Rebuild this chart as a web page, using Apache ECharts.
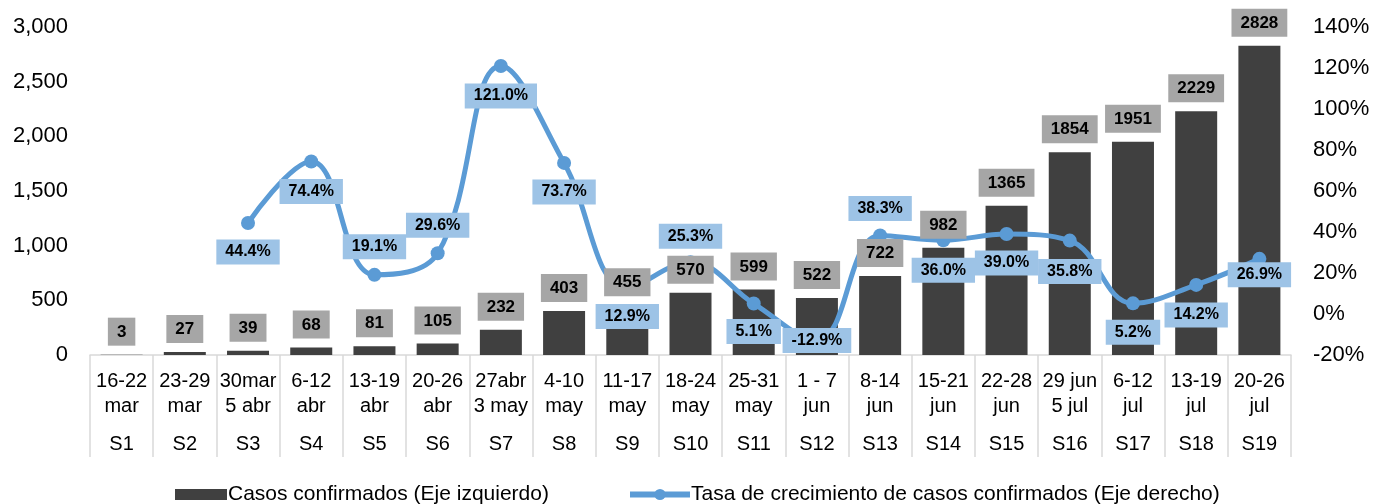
<!DOCTYPE html>
<html>
<head>
<meta charset="utf-8">
<script src="https://cdn.jsdelivr.net/npm/echarts@6/dist/echarts.min.js"></script>
<style>
    html, body { margin: 0; padding: 0; background: #fff; }
    #chart { width: 1387px; height: 504px; }
</style>
</head>
<body>
<div id="chart"></div>
<script>
// datos
const fechas = ['16-22\nmar', '23-29\nmar', '30mar\n5 abr', '6-12\nabr', '13-19\nabr', '20-26\nabr',
    '27abr\n3 may', '4-10\nmay', '11-17\nmay', '18-24\nmay', '25-31\nmay', '1 - 7\njun', '8-14\njun',
    '15-21\njun', '22-28\njun', '29 jun\n5 jul', '6-12\njul', '13-19\njul', '20-26\njul']
const semanas = ['S1', 'S2', 'S3', 'S4', 'S5', 'S6', 'S7', 'S8', 'S9', 'S10', 'S11', 'S12', 'S13',
    'S14', 'S15', 'S16', 'S17', 'S18', 'S19']
const casos = [3, 27, 39, 68, 81, 105, 232, 403, 455, 570, 599, 522, 722, 982, 1365, 1854, 1951, 2229, 2828]
const tasa = [null, null, 44.4, 74.4, 19.1, 29.6, 121.0, 73.7, 12.9, 25.3, 5.1, -12.9, 38.3, 36.0, 39.0, 35.8, 5.2, 14.2, 26.9]
// desplazamiento vertical de cada etiqueta de la linea
const desplaz = [0, 0, 29, 30, -28, -28, 30, 29, 29, -26, 28, 0, -27, 30, 29, 31, 29, 30, 16]

const fuente = 'Liberation Sans, Arial, sans-serif'
const serieBarras = 'Casos confirmados (Eje izquierdo)'
const serieLinea = 'Tasa de crecimiento de casos confirmados (Eje derecho)'

let myChart = echarts.init(document.getElementById('chart'))

let datosTasa = tasa.map((v, i) => ({
    value: v,
    label: { offset: [0, desplaz[i]] }
}))

let estiloLeyenda = { fontSize: 21, color: '#000', fontFamily: fuente }

let option = {
    animation: false,
    textStyle: { fontFamily: fuente },
    grid: {
        left: 90,
        right: 96,
        top: 27,
        bottom: 149
    },
    legend: [
        {
            left: 170,
            top: 479,
            itemWidth: 52,
            itemHeight: 11,
            itemGap: 4,
            textStyle: Object.assign({ padding: [0, 0, 0, -4] }, estiloLeyenda),
            data: [{ name: serieBarras, icon: 'rect' }]
        },
        {
            left: 622,
            top: 479,
            itemWidth: 60,
            itemHeight: 14,
            textStyle: Object.assign({ padding: [0, 0, 0, -4] }, estiloLeyenda),
            data: [{ name: serieLinea, lineStyle: { width: 6 } }]
        }
    ],
    xAxis: {
        type: 'category',
        data: fechas,
        boundaryGap: true,
        axisLine: { lineStyle: { color: '#d9d9d9', width: 1.5 } },
        axisTick: {
            show: true,
            interval: 0,
            length: 102,
            lineStyle: { color: '#d9d9d9', width: 1.5 }
        },
        axisLabel: {
            interval: 0,
            margin: 14,
            formatter: (v, i) => v.split('\n').map(t => '{d|' + t + '}').join('\n') + '\n{s|' + semanas[i] + '}',
            rich: {
                d: { fontSize: 20, lineHeight: 25, color: '#000', fontFamily: fuente },
                s: { fontSize: 20, lineHeight: 51, color: '#000', fontFamily: fuente }
            }
        }
    },
    yAxis: [
        {
            type: 'value',
            min: 0,
            max: 3000,
            interval: 500,
            splitLine: { show: false },
            axisLine: { show: false },
            axisLabel: {
                margin: 22,
                fontSize: 22,
                color: '#000',
                formatter: v => v.toLocaleString('en-US')
            }
        },
        {
            type: 'value',
            min: -20,
            max: 140,
            interval: 20,
            splitLine: { show: false },
            axisLine: { show: false },
            axisLabel: {
                margin: 22,
                fontSize: 22,
                color: '#000',
                formatter: v => v + '%'
            }
        }
    ],
    series: [
        {
            name: serieBarras,
            type: 'bar',
            barWidth: 42,
            z: 2,
            data: casos,
            itemStyle: { color: '#404040' }
        },
        {
            name: serieLinea,
            type: 'line',
            yAxisIndex: 1,
            z: 3,
            data: datosTasa,
            smooth: 0.4,
            connectNulls: false,
            symbol: 'circle',
            symbolSize: 14,
            lineStyle: { color: '#5b9bd5', width: 5 },
            itemStyle: { color: '#5b9bd5' },
            label: {
                show: true,
                position: 'inside',
                fontSize: 16,
                fontWeight: 'bold',
                color: '#000',
                backgroundColor: '#9dc3e6',
                padding: [5, 9, 4, 9],
                formatter: p => p.value == null ? '' : p.value.toFixed(1) + '%'
            }
        },
        {
            // barras transparentes solo para poner las etiquetas encima de la linea
            name: 'etiquetas',
            type: 'bar',
            barWidth: 42,
            barGap: '-100%',
            z: 4,
            silent: true,
            data: casos,
            itemStyle: { color: 'rgba(0,0,0,0)' },
            label: {
                show: true,
                position: 'top',
                distance: 9,
                fontSize: 17,
                fontWeight: 'bold',
                color: '#000',
                backgroundColor: '#a6a6a6',
                padding: [6, 9, 5, 9]
            }
        }
    ]
}

myChart.setOption(option)
</script>
</body>
</html>
